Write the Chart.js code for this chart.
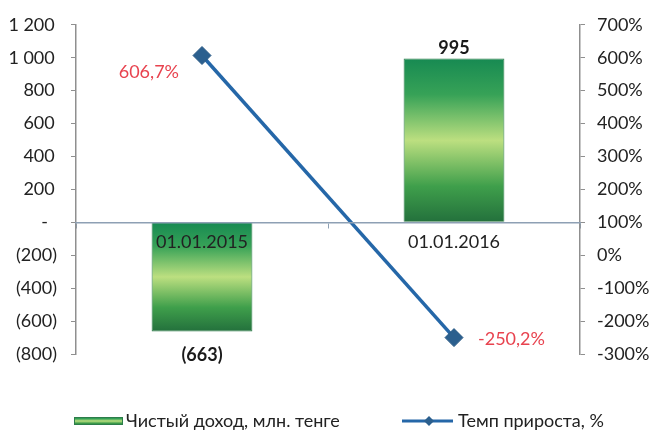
<!DOCTYPE html>
<html>
<head>
<meta charset="utf-8">
<script src="https://cdn.jsdelivr.net/npm/chart.js@4.4.1/dist/chart.umd.min.js"></script>
<style>
  html, body { margin: 0; background: #fff; }
  #wrap { width: 652px; height: 431px; }
</style>
</head>
<body>
<div id="wrap"><canvas id="chart"></canvas></div>
<script>
const categories = ["01.01.2015", "01.01.2016"];
const incomeLabel = "Чистый доход, млн. тенге";
const rateLabel = "Темп прироста, %";
const netIncome = [-663, 995];
const growthRate = [606.7, -250.2];
const incomeTicks = [-800, 1200, 200];   // min, max, step
const rateTicks = [-300, 700, 100];

const FONT = "Lato, 'Open Sans', sans-serif";
const FS = 18;
const GREEN_STOPS = [[0, "#178a52"], [0.22, "#37a257"], [0.5, "#bcdf80"], [0.78, "#3f9f4b"], [1, "#23703c"]];

/* ---------- FORMAT ---------- */
function money(v){
  if (v === 0) return "-\u2002";
  const s = String(Math.abs(v)).replace(/\B(?=(\d{3})+(?!\d))/g, " ");
  return v < 0 ? "(" + s + ")" : s + "\u2009";
}
function pct(v){ return v.toFixed(1).replace(".", ",") + "%"; }

function greenGradient(ctx, y0, y1){
  const g = ctx.createLinearGradient(0, y0, 0, y1);
  GREEN_STOPS.forEach(s => g.addColorStop(s[0], s[1]));
  return g;
}

function barFill(c){
  const chart = c.chart, y = chart.scales.y;
  if (!chart.chartArea || !y || c.raw === undefined) return "#3c9a55";
  const top = y.getPixelForValue(Math.max(c.raw, 0));
  const bot = y.getPixelForValue(Math.min(c.raw, 0));
  if (!isFinite(top) || !isFinite(bot) || top === bot) return "#3c9a55";
  return greenGradient(chart.ctx, top, bot);
}

/* ---------- LABELS ---------- */
const valueLabels = {
  id: "valueLabels",
  afterDatasetsDraw(chart){
    const ctx = chart.ctx;
    ctx.save();
    ctx.font = "bold " + FS + "px " + FONT;
    ctx.fillStyle = "#1a1a1a";
    ctx.textAlign = "center";
    chart.getDatasetMeta(1).data.forEach((b, i) => {
      const v = netIncome[i];
      if (v >= 0){ ctx.textBaseline = "bottom"; ctx.fillText(money(v).trim(), b.x, b.y - 1); }
      else { ctx.textBaseline = "top"; ctx.fillText(money(v), b.x, b.y + 15); }
    });
    ctx.font = FS + "px " + FONT;
    ctx.fillStyle = "#e8434f";
    ctx.textBaseline = "middle";
    chart.getDatasetMeta(0).data.forEach((p, i) => {
      const t = pct(growthRate[i]);
      if (i === 0){ ctx.textAlign = "right"; ctx.fillText(t, p.x - 23, p.y + 17); }
      else { ctx.textAlign = "left"; ctx.fillText(t, p.x + 24, p.y + 2); }
    });
    ctx.restore();
  }
};

/* ---------- LEGEND ---------- */
const bottomLegend = {
  id: "bottomLegend",
  afterDraw(chart){
    const ctx = chart.ctx, y = chart.height - 10;
    ctx.save();
    ctx.font = FS + "px " + FONT;
    ctx.textBaseline = "middle";
    ctx.textAlign = "left";
    // bar key
    ctx.fillStyle = greenGradient(ctx, y - 4, y + 4);
    ctx.fillRect(74, y - 4, 49, 8);
    ctx.strokeStyle = "#2d7d4a"; ctx.lineWidth = 1;
    ctx.strokeRect(74.5, y - 3.5, 48, 7);
    ctx.fillStyle = "#222";
    ctx.fillText(incomeLabel, 126, y);
    // line key
    ctx.strokeStyle = "#2567a8"; ctx.lineWidth = 3;
    ctx.beginPath(); ctx.moveTo(402, y); ctx.lineTo(453, y); ctx.stroke();
    ctx.fillStyle = "#2b5f8e";
    ctx.beginPath(); ctx.moveTo(429, y - 5); ctx.lineTo(434, y); ctx.lineTo(429, y + 5); ctx.lineTo(424, y); ctx.closePath(); ctx.fill();
    ctx.fillStyle = "#222";
    ctx.fillText(rateLabel, 458, y);
    ctx.restore();
  }
};

/* ---------- CHART ---------- */
new Chart(document.getElementById("chart"), {
  data: {
    labels: categories,
    datasets: [
      {
        type: "line",
        label: rateLabel,
        data: growthRate,
        yAxisID: "y1",
        order: 0,
        borderColor: "#2567a8",
        borderWidth: 3.5,
        pointStyle: "rectRot",
        pointRadius: 9,
        pointHoverRadius: 9,
        pointBackgroundColor: "#2b5f8e",
        pointBorderColor: "#2a5a85",
        pointBorderWidth: 1,
        tension: 0
      },
      {
        type: "bar",
        label: incomeLabel,
        data: netIncome,
        yAxisID: "y",
        order: 1,
        backgroundColor: barFill,
        borderColor: "#2d7d4a",
        borderWidth: 1,
        barPercentage: 0.8,
        categoryPercentage: 0.5
      }
    ]
  },
  options: {
    responsive: true,
    maintainAspectRatio: false,
    animation: false,
    layout: { padding: { top: 24, right: 0, bottom: 77, left: 0 } },
    plugins: { legend: { display: false }, tooltip: { enabled: false } },
    scales: {
      x: {
        position: { y: 0 },
        offset: true,
        grid: { offset: true, drawOnChartArea: false, tickLength: 5, color: "#8ea0b4" },
        border: { color: "#8ea0b4", width: 1.5, z: 1 },
        ticks: { z: 1, font: { family: FONT, size: FS }, color: "#222", padding: 4 }
      },
      y: {
        position: "left",
        min: incomeTicks[0], max: incomeTicks[1],
        afterFit: s => { s.width = 76; },
        grid: { drawOnChartArea: false, tickLength: 5, color: "#8f8f8f" },
        border: { color: "#8f8f8f", width: 1.5 },
        ticks: { stepSize: incomeTicks[2], font: { family: FONT, size: FS }, color: "#222", padding: 14,
                 callback: v => money(v) }
      },
      y1: {
        position: "right",
        min: rateTicks[0], max: rateTicks[1],
        afterFit: s => { s.width = 72; },
        grid: { drawOnChartArea: false, tickLength: 5, color: "#8f8f8f" },
        border: { color: "#8f8f8f", width: 1.5 },
        ticks: { stepSize: rateTicks[2], font: { family: FONT, size: FS }, color: "#222", padding: 12,
                 callback: v => v + "%" }
      }
    }
  },
  plugins: [valueLabels, bottomLegend]
});
</script>
</body>
</html>
